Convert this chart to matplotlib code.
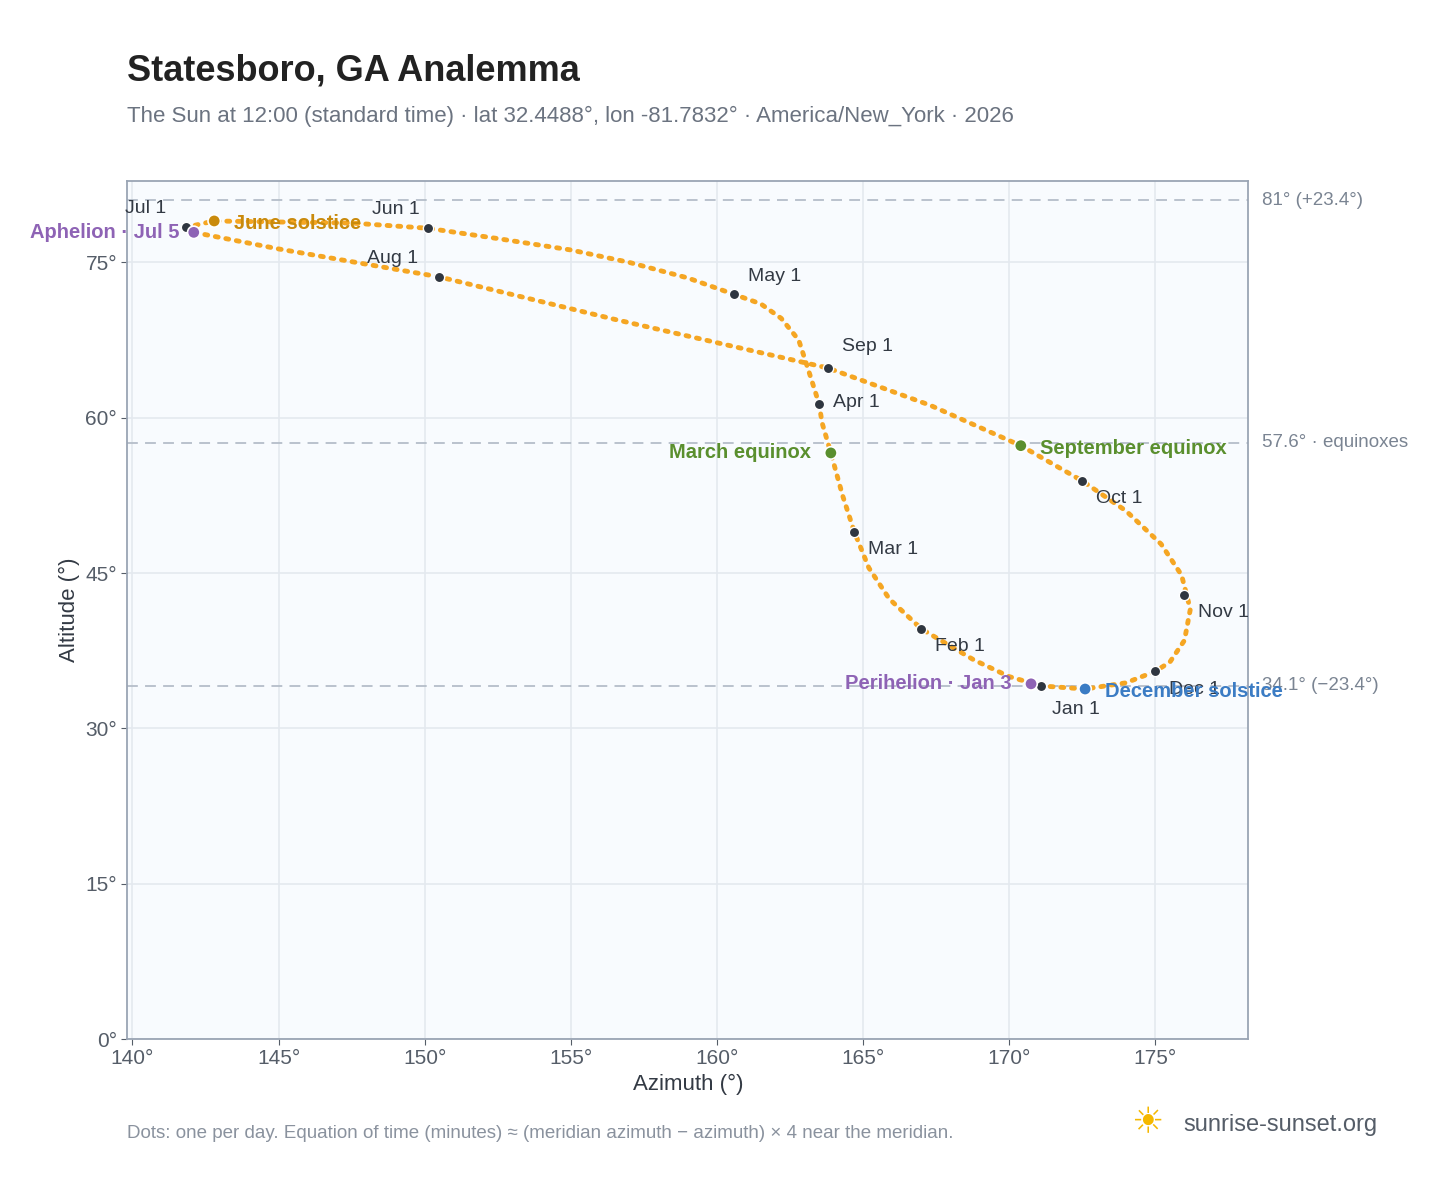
import matplotlib.pyplot as plt

plt.rcParams["font.family"] = ["Liberation Sans", "DejaVu Sans"]

# path estimates (azimuth, altitude), a few points per month
path_az = [172.6, 171.1, 170.0, 168.8, 167.0, 165.9, 165.2, 164.7, 164.3, 163.9, 163.6, 163.5,
           163.2, 162.8, 162.2, 161.5, 160.6, 159.0, 157.0, 155.0, 152.5, 150.1, 147.5, 145.0,
           142.8, 141.85, 142.1, 145.0, 150.5, 156.5, 163.8, 167.3, 170.4, 172.5, 174.0,
           175.2, 175.9, 176.2, 176.0, 175.5, 175.0, 174.0, 172.6]
path_alt = [33.8, 34.1, 35.0, 36.6, 39.6, 42.5, 45.5, 49.0, 52.5, 56.6, 59.5, 61.3,
            64.0, 67.5, 69.6, 71.0, 71.9, 73.5, 75.0, 76.2, 77.3, 78.3, 78.8, 78.9,
            79.0, 78.4, 77.9, 76.3, 73.6, 69.5, 64.8, 61.2, 57.3, 53.9, 51.0,
            47.8, 44.8, 41.5, 38.5, 36.4, 35.5, 34.4, 33.8]

months = ["Jan 1", "Feb 1", "Mar 1", "Apr 1", "May 1", "Jun 1", "Jul 1", "Aug 1",
          "Sep 1", "Oct 1", "Nov 1", "Dec 1"]
month_az = [171.1, 167.0, 164.7, 163.5, 160.6, 150.1, 141.85, 150.5, 163.8, 172.5, 176.0, 175.0]
month_alt = [34.1, 39.6, 49.0, 61.3, 71.9, 78.3, 78.4, 73.6, 64.8, 53.9, 42.9, 35.5]
month_off = [(8, -20), (10, -16), (10, -16), (10, -2), (10, 10), (-40, 10), (-44, 10), (-52, 10),
             (10, 12), (10, -16), (10, -16), (10, -16)]

events = ["June solstice", "Aphelion · Jul 5", "March equinox", "September equinox",
          "Perihelion · Jan 3", "December solstice"]
event_az = [142.8, 142.1, 163.9, 170.4, 170.75, 172.6]
event_alt = [79.0, 77.9, 56.6, 57.3, 34.3, 33.8]
event_col = ["#c98a0c", "#8e63b5", "#5a8f2e", "#5a8f2e", "#8e63b5", "#3b7cc4"]
event_off = [(14, -2), (-10, 0), (-14, 0), (14, -2), (-14, 0), (14, -2)]
event_ha = ["left", "right", "right", "left", "right", "left"]

ref_alt = [81.0, 57.6, 34.1]
ref_txt = ["81° (+23.4°)", "57.6° · equinoxes", "34.1° (−23.4°)"]

fig = plt.figure(figsize=(14.48, 11.88), dpi=100)
ax = fig.add_axes([0.088, 0.1254, 0.774, 0.7226])
ax.set_facecolor("#f8fbfe")
for s in ax.spines.values():
    s.set_color("#9aa5b4")
    s.set_linewidth(1.3)
ax.grid(color="#e4e9ef", lw=1.2)
ax.set_axisbelow(True)

for a, t in zip(ref_alt, ref_txt):
    ax.axhline(a, color="#b5bec9", ls=(0, (6, 4)), lw=1.3)
    ax.annotate(t, (1, a), xycoords=("axes fraction", "data"), xytext=(10, 0),
                textcoords="offset points", va="center", fontsize=13.5, color="#7a8492",
                annotation_clip=False)

ax.plot(path_az, path_alt, color="#f5a623", lw=3.5, ls=(0, (0.6, 1.6)),
        dash_capstyle="round", zorder=2)

ax.scatter(month_az, month_alt, s=55, color="#2f3640", edgecolor="white", lw=1, zorder=4)
for m, x, y, o in zip(months, month_az, month_alt, month_off):
    ax.annotate(m, (x, y), xytext=o, textcoords="offset points", fontsize=14,
                color="#333a44", annotation_clip=False)

ax.scatter(event_az, event_alt, s=80, color=event_col, edgecolor="white", lw=1.2, zorder=5)
for e, x, y, c, o, h in zip(events, event_az, event_alt, event_col, event_off, event_ha):
    ax.annotate(e, (x, y), xytext=o, textcoords="offset points", fontsize=14.5,
                fontweight="bold", color=c, ha=h, va="center", annotation_clip=False)

ax.set_xlim(139.83, 178.18)
ax.set_ylim(0, 82.9)
ax.set_xticks(range(140, 180, 5))
ax.set_xticklabels([f"{v}°" for v in range(140, 180, 5)])
ax.set_yticks(range(0, 90, 15))
ax.set_yticklabels([f"{v}°" for v in range(0, 90, 15)])
ax.tick_params(labelsize=15, colors="#555d68", length=4)
ax.set_xlabel("Azimuth (°)", fontsize=16, color="#333a44")
ax.set_ylabel("Altitude (°)", fontsize=16, color="#333a44")

fig.text(0.088, 0.94, "Statesboro, GA Analemma", fontsize=26, fontweight="bold",
         color="#222222", va="center")
fig.text(0.088, 0.902, "The Sun at 12:00 (standard time) · lat 32.4488°, lon -81.7832° · "
         "America/New_York · 2026", fontsize=16, color="#6b7380", va="center")
fig.text(0.088, 0.046, "Dots: one per day. Equation of time (minutes) ≈ (meridian azimuth − "
         "azimuth) × 4 near the meridian.", fontsize=13.5, color="#8a929e", va="center")
fig.text(0.951, 0.053, "sunrise-sunset.org", fontsize=17, color="#555d68", va="center",
         ha="right")
fig.text(0.792, 0.055, "☀", fontsize=26, color="#f5b800", va="center", ha="center",
         family="DejaVu Sans")

fig.savefig("out.png")
